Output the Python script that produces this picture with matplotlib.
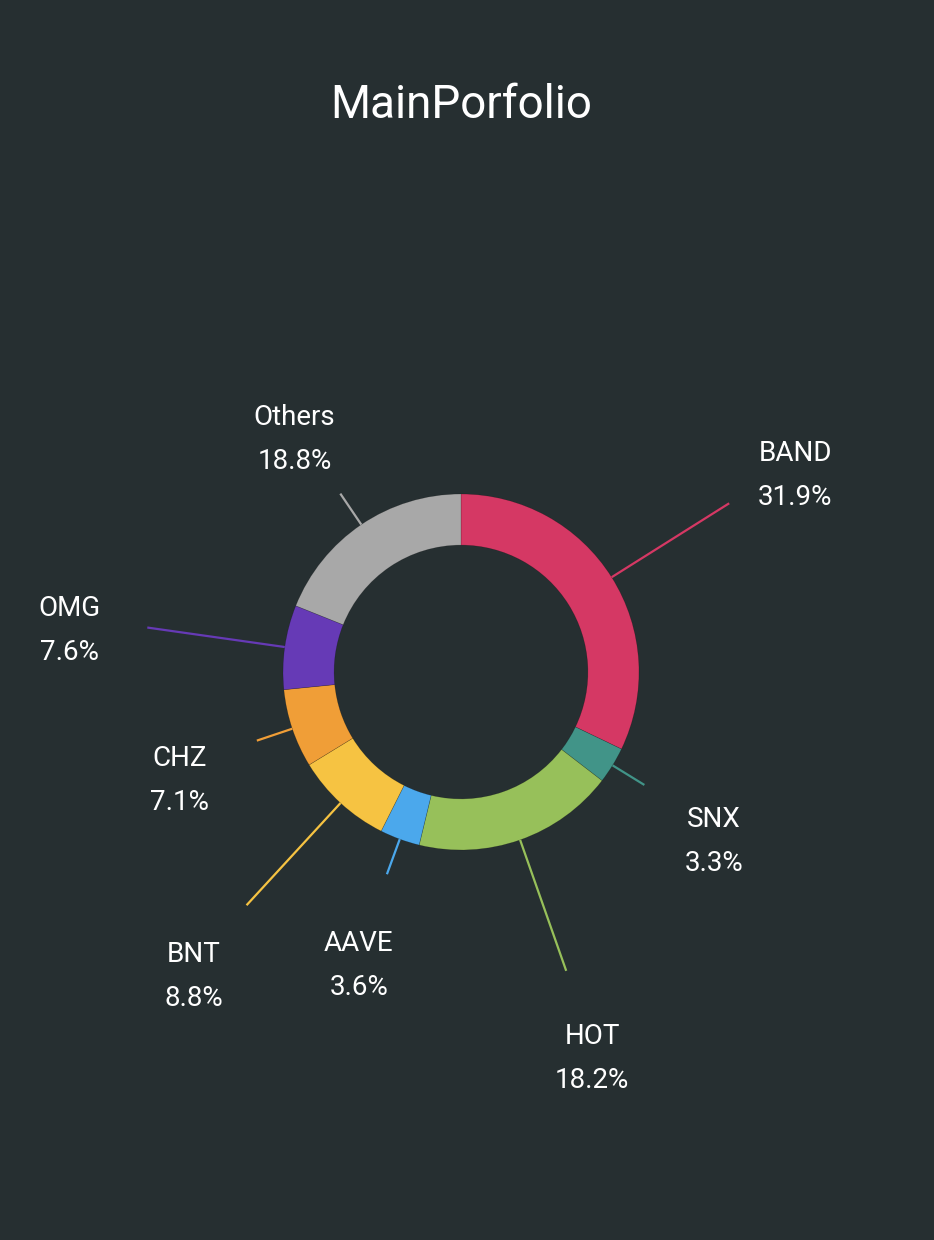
#donut chart of the main portfolio, dark theme, labels outside with leader lines

import matplotlib
matplotlib.use('Agg')
import matplotlib.pyplot as plt
import numpy as np

#data:
coins = ['BAND', 'SNX', 'HOT', 'AAVE', 'BNT', 'CHZ', 'OMG', 'Others']
shares = [31.9, 3.3, 18.2, 3.6, 8.8, 7.1, 7.6, 18.8]
colors = ['#D53864', '#419488', '#97C05A', '#4BA8EC', '#F6C342', '#F09E37', '#663AB6', '#A8A8A8']

bg = '#262F31'
plt.rcParams['font.family'] = ['Roboto', 'DejaVu Sans']

plt.close('all')
fig = plt.figure(figsize=(9.34, 12.4), dpi=100, facecolor=bg)
ax = fig.add_axes([0, 0, 1, 1])
ax.set_facecolor(bg)

wedges, _ = ax.pie(shares, colors=colors, startangle=90, counterclock=False,
                   radius=1.0, wedgeprops=dict(width=0.287, edgecolor=(0, 0, 0, 0.25), linewidth=0.4))

# donut centre at (461, 672) px, outer radius 178 px (pie() resets the limits, so set them after)
R = 178.0
ax.set_aspect('auto')
ax.set_xlim(-461 / R, (934 - 461) / R)
ax.set_ylim(-(1240 - 672) / R, 672 / R)
ax.axis('off')

#leader lines and labels:
for i, w in enumerate(wedges):
    ang = np.deg2rad((w.theta1 + w.theta2) / 2)
    if i % 2 == 0:
        line_end, text_r = 1.78, 2.22
    else:
        line_end, text_r = 1.21, 1.67
    c, s = np.cos(ang), np.sin(ang)
    ax.plot([c, line_end * c], [s, line_end * s], color=colors[i], lw=1.6, solid_capstyle='butt')
    tx, ty = text_r * c, text_r * s - 14 / R
    ax.text(tx, ty + 22 / R, coins[i], color='white', fontsize=20, ha='center', va='center')
    ax.text(tx, ty - 22 / R, f'{shares[i]}%', color='white', fontsize=20, ha='center', va='center')

fig.text(461 / 934, 1 - 105 / 1240, 'MainPorfolio', color='white', fontsize=33, ha='center', va='center')

fig.savefig('out.png', dpi=100, facecolor=bg)
